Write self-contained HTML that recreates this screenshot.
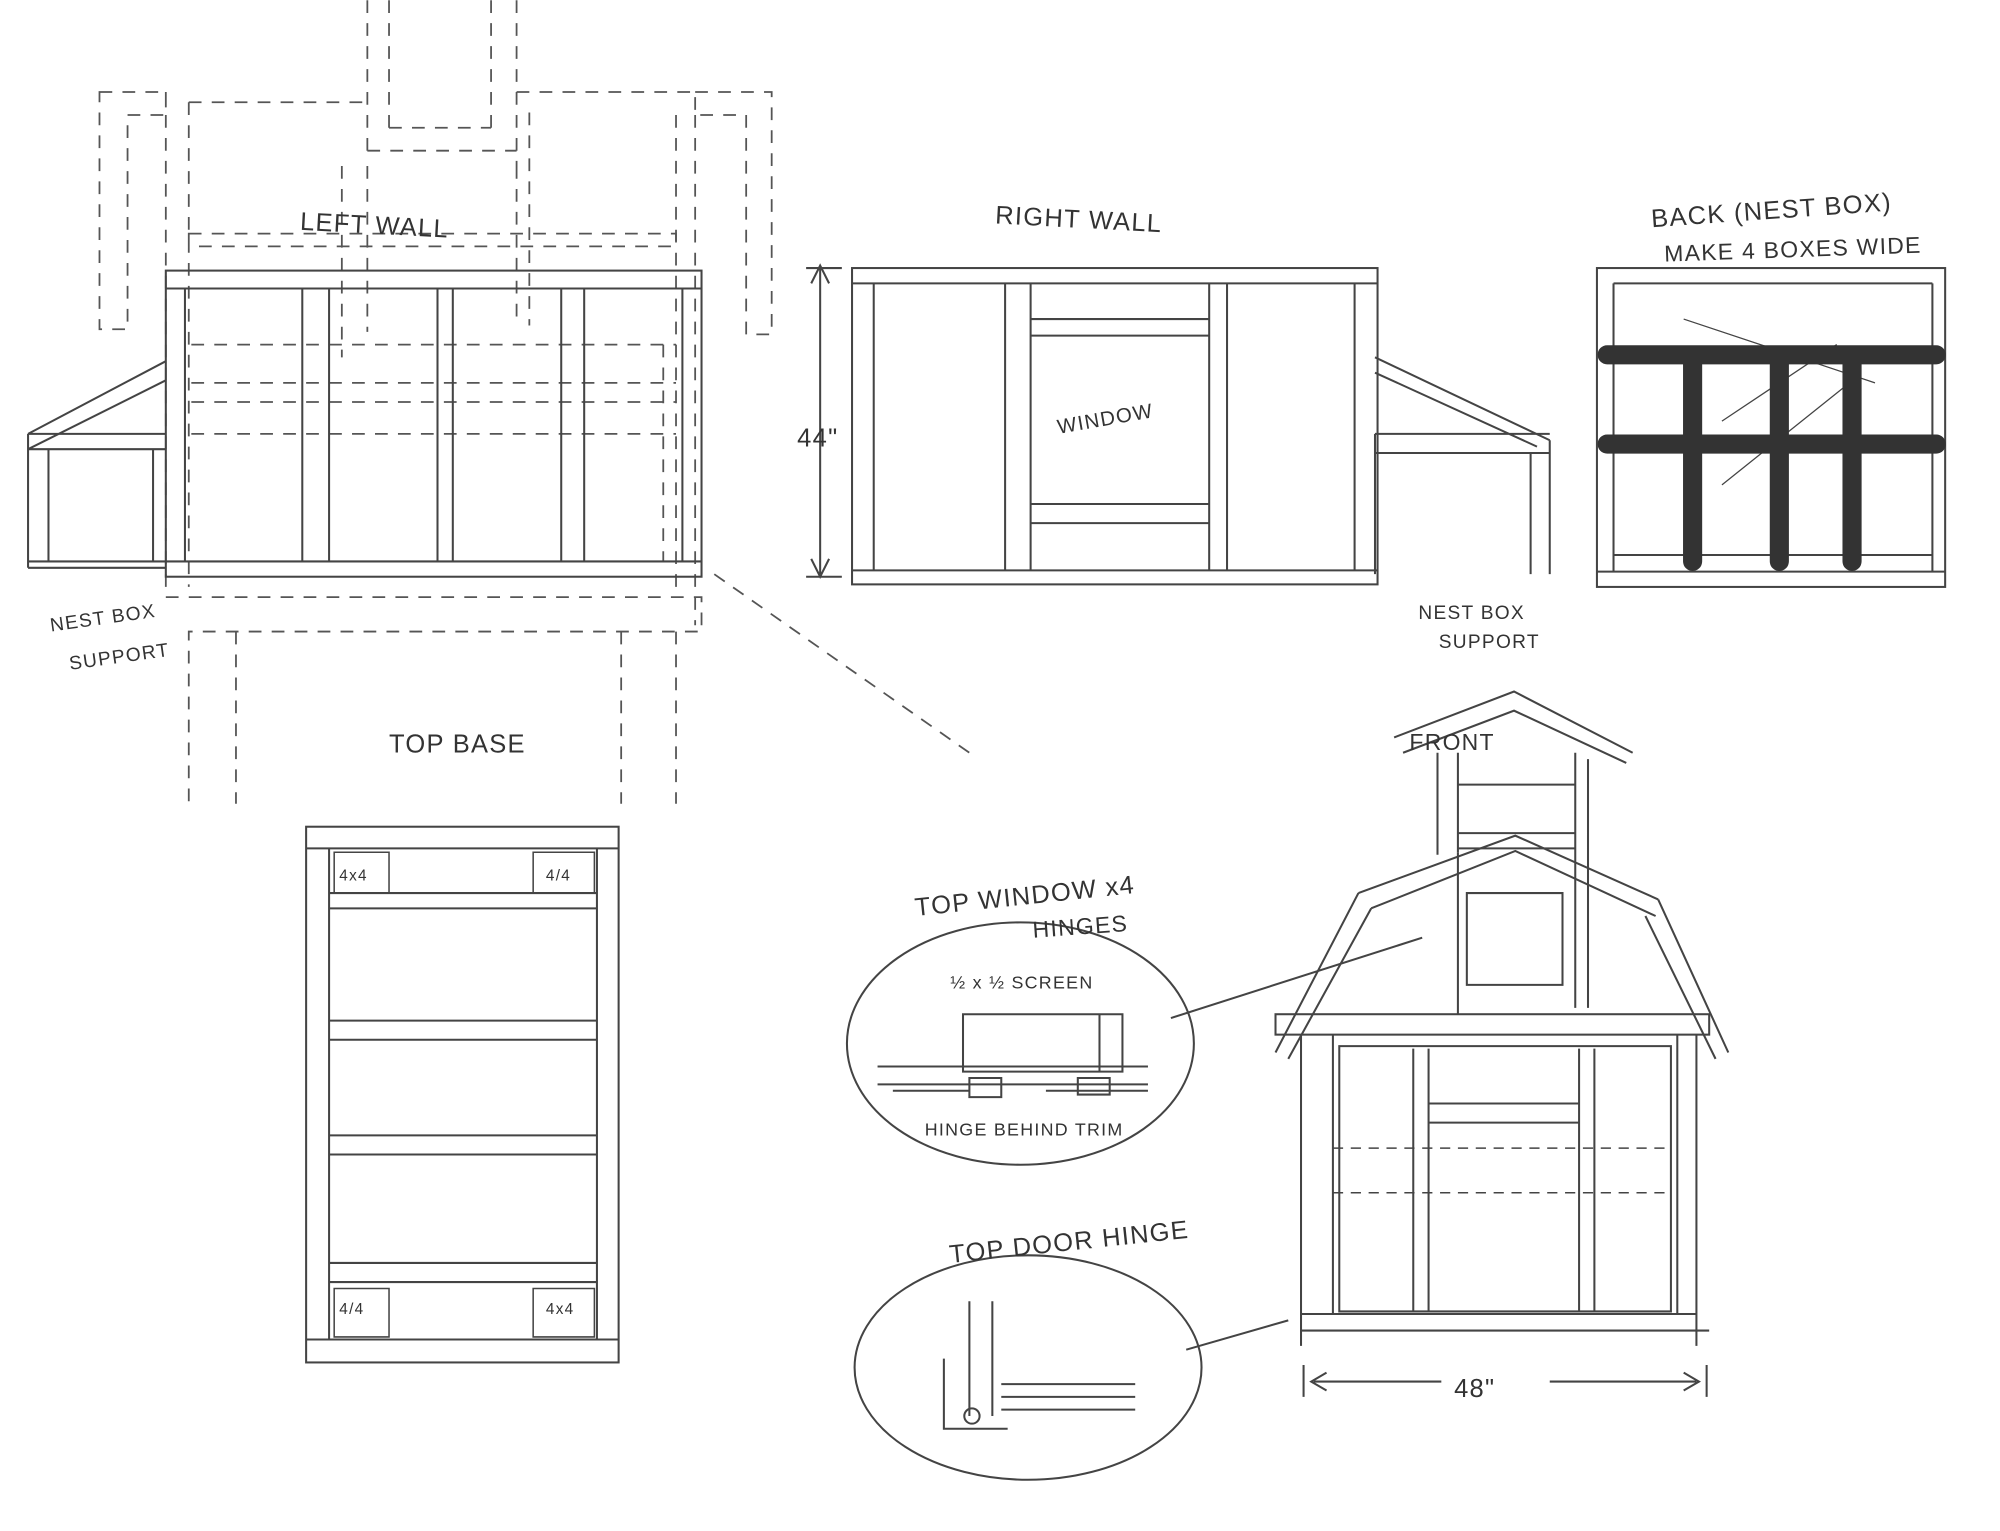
<!DOCTYPE html>
<html><head><meta charset="utf-8"><style>
html,body{margin:0;padding:0;background:#fff}
svg{display:block}
text{font-family:"Liberation Sans",sans-serif;fill:#333;letter-spacing:1px}
</style></head><body>
<svg width="2000" height="1531" viewBox="0 0 1568 1200" xmlns="http://www.w3.org/2000/svg">
<rect width="1568" height="1200" fill="#fff"/>
<g fill="none" stroke="#444" stroke-width="1.6">
<!-- dashed construction lines -->
<g stroke-dasharray="10,8" stroke="#555" stroke-width="1.4">
<path d="M288,0V118M305,0V100M385,0V100M405,0V130M288,118H405M305,100H385"/>
<path d="M78,72H130V90H100V258H78ZM130,72V460M148,80V460M148,80H288M148,183H530V193H148Z"/>
<path d="M405,72H545V90H585V262H605V72H545M545,90V490M530,90V460M415,88V255M405,130V255"/>
<path d="M268,130V280M288,130V260"/>
<path d="M130,468H550V495H148V630M185,495V630M487,495V630M530,495V630"/>
<path d="M150,270H530M150,300H530M150,315H530M150,340H530M520,270V440"/>
<path d="M560,450L760,590"/>
</g>
<!-- left wall -->
<rect x="130" y="212" width="420" height="240"/>
<path d="M130,226H550M130,440H550M145,226V440M237,226V440M258,226V440M343,226V440M355,226V440M440,226V440M458,226V440M535,226V440"/>
<path d="M22,340L130,283M22,352L130,298M22,340H130M22,352H130M22,340V445M38,352V440M120,352V440M22,440H130M22,445H130"/>
<!-- right wall -->
<rect x="668" y="210" width="412" height="248"/>
<path d="M668,222H1080M668,447H1080M685,222V447M788,222V447M808,222V447M948,222V447M962,222V447M1062,222V447"/>
<path d="M808,250H948M808,263H948M808,395H948M808,410H948"/>
<path d="M1078,280L1215,345M1078,292L1205,350M1078,340H1215M1078,355H1215M1078,340V450M1200,355V450M1215,345V450"/>
<path d="M643,210V450M636,222L643,208L650,222M636,438L643,452L650,438M632,210H660M632,452H660"/>
<!-- back -->
<rect x="1252" y="210" width="273" height="250"/>
<path d="M1265,222H1515M1265,222V448M1515,222V448M1265,435H1515M1252,448H1525"/>
<path d="M1320,250L1470,300M1350,330L1440,270M1350,380L1450,300" stroke-width="1"/>
</g>
<g stroke="#333" stroke-width="15" stroke-linecap="round" fill="none">
<path d="M1260,278H1518M1260,348H1518M1327,278V440M1395,278V440M1452,278V440"/>
</g>
<g fill="none" stroke="#444" stroke-width="1.6">
<!-- top base -->
<rect x="240" y="648" width="245" height="420"/>
<path d="M258,665V1050M468,665V1050M240,665H485M240,1050H485M258,700H468M258,712H468M258,800H468M258,815H468M258,890H468M258,905H468M258,990H468M258,1005H468"/>
<path d="M262,668H305V700H262ZM418,668H466V700H418ZM262,1010H305V1048H262ZM418,1010H466V1048H418Z" stroke-width="1.2"/>
<!-- front -->
<path d="M1093,578L1187,542L1280,590M1100,590L1187,557L1275,598"/>
<path d="M1127,590V670M1143,590V668M1235,590V790M1245,595V790M1143,615H1235M1143,653H1235M1143,665H1235"/>
<path d="M1065,700L1188,655L1300,705M1075,712L1188,667L1298,718"/>
<path d="M1065,700L1000,825M1075,712L1010,830M1300,705L1355,825M1290,718L1345,830"/>
<path d="M1143,668V795M1150,700H1225V772H1150Z"/>
<rect x="1000" y="795" width="340" height="16"/>
<path d="M1020,811V1055M1045,811V1030M1315,811V1030M1330,811V1055M1050,820H1310V1028H1050ZM1020,1030H1330M1020,1043H1340M1108,822V1028M1120,822V1028M1238,822V1028M1250,822V1028M1120,865H1238M1120,880H1238"/>
<path d="M1045,900H1310M1045,935H1310" stroke-dasharray="8,6" stroke-width="1.2"/>
<path d="M1022,1070V1095M1338,1070V1095M1030,1083H1130M1215,1083H1330M1040,1076L1028,1083L1040,1090M1320,1076L1332,1083L1320,1090"/>
<!-- details -->
<ellipse cx="800" cy="818" rx="136" ry="95"/>
<path d="M918,798L1115,735"/>
<path d="M688,836H900M688,850H900M755,795H880V840H755ZM862,795V840M700,855H760M820,855H900M760,845H785V860H760ZM845,845H870V858H845Z"/>
<ellipse cx="806" cy="1072" rx="136" ry="88"/>
<path d="M930,1058L1010,1035M760,1020V1110M778,1020V1110M740,1065V1120H790M785,1085H890M785,1095H890M785,1105H890"/>
<circle cx="762" cy="1110" r="6"/>
</g>
<g font-size="20">
<text x="235" y="180" transform="rotate(3 235 180)">LEFT WALL</text>
<text x="780" y="175" transform="rotate(3 780 175)">RIGHT WALL</text>
<text x="1295" y="178" transform="rotate(-4 1295 178)">BACK (NEST BOX)</text>
<text x="1305" y="205" font-size="18" transform="rotate(-2 1305 205)">MAKE 4 BOXES WIDE</text>
<text x="830" y="340" font-size="16" transform="rotate(-10 830 340)">WINDOW</text>
<text x="625" y="350" font-size="20">44"</text>
<text x="40" y="495" font-size="15" transform="rotate(-8 40 495)">NEST BOX</text>
<text x="55" y="525" font-size="15" transform="rotate(-8 55 525)">SUPPORT</text>
<text x="1112" y="485" font-size="15">NEST BOX</text>
<text x="1128" y="508" font-size="15">SUPPORT</text>
<text x="305" y="590" font-size="20">TOP BASE</text>
<text x="1105" y="588" font-size="18">FRONT</text>
<text x="718" y="718" font-size="20" transform="rotate(-6 718 718)">TOP WINDOW x4</text>
<text x="810" y="735" font-size="18" transform="rotate(-4 810 735)">HINGES</text>
<text x="745" y="775" font-size="14">½ x ½ SCREEN</text>
<text x="725" y="890" font-size="14">HINGE BEHIND TRIM</text>
<text x="745" y="990" font-size="20" transform="rotate(-6 745 990)">TOP DOOR HINGE</text>
<text x="1140" y="1095" font-size="20">48"</text>
<text x="266" y="690" font-size="12">4x4</text>
<text x="428" y="690" font-size="12">4/4</text>
<text x="266" y="1030" font-size="12">4/4</text>
<text x="428" y="1030" font-size="12">4x4</text>
</g>
</svg>
</body></html>
